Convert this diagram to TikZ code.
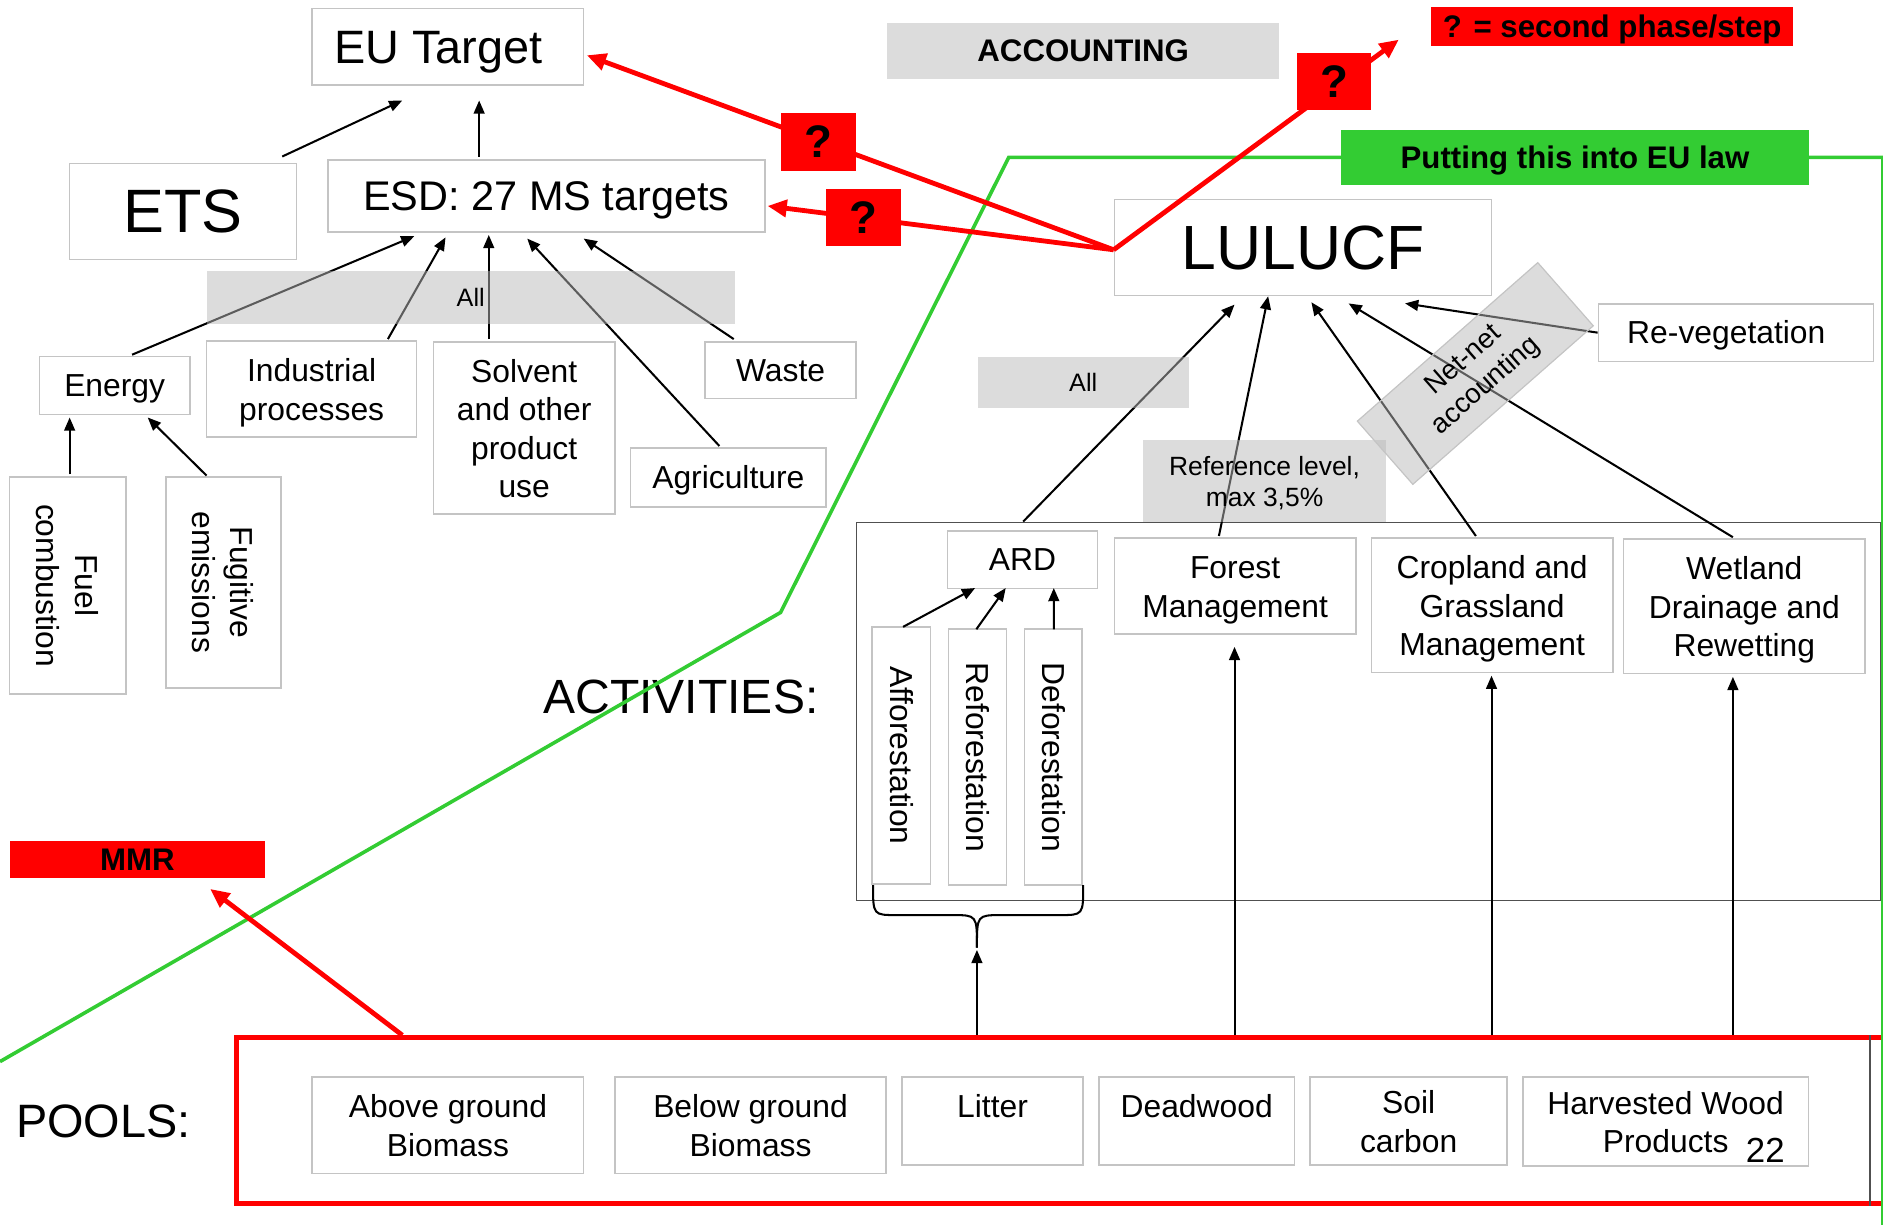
\documentclass[tikz,border=0pt]{standalone}
\usepackage{fontspec}
\setmainfont{Liberation Sans}
\usetikzlibrary{arrows.meta}
\definecolor{boxgray}{HTML}{C4C4C4}
\definecolor{fillgray}{HTML}{B9B9B9}
\definecolor{myred}{HTML}{FF0000}
\definecolor{mygreen}{HTML}{33CC33}
\definecolor{darkline}{HTML}{505050}
\newcommand\myfs[2]{\fontsize{#1}{#2}\selectfont}
\newcommand\mytp{\rule{0pt}{\dimexpr0.905em+1.5pt\relax}}
\begin{document}
\begin{tikzpicture}[x=1pt,y=-1pt,
  vc/.style={execute at begin node={\rule{0pt}{0.905em}},execute at end node={\rule[-0.212em]{0pt}{0pt}}},
  box/.style={draw=boxgray,line width=1.3pt,fill=white,inner sep=0pt,align=center,vc},
  gbox/.style={fill=fillgray,fill opacity=0.5,text opacity=1,inner sep=0pt,align=center,vc},
  rbox/.style={fill=myred,inner sep=0pt,align=center,font=\bfseries\myfs{26}{30},vc},
  arr/.style={line width=1.7pt,-{Triangle[length=11pt,width=9pt]}},
  rarr/.style={draw=myred,line width=4pt,-{Triangle[length=16pt,width=14pt]}},
  f26/.style={font=\myfs{26.5}{32}}]
\useasboundingbox (0,0) rectangle (1568,1020);

% frames
\node[draw=darkline,line width=1.2pt,minimum width=853,minimum height=315,inner sep=0pt] (actbox) at (1139.5,592.5) {};
\node[draw=myred,line width=4pt,minimum width=1393,minimum height=138,inner sep=0pt] (pools) at (893.5,933) {};
\draw[darkline,line width=1.5pt] ([shift={(663.5,0)}]pools.north) -- ([shift={(663.5,0)}]pools.south);

% left part
\node[box,font=\myfs{39}{44},minimum width=226,minimum height=64] (eu) at (373,39) {EU Target\hspace*{16pt}};
\node[box,font=\myfs{51}{56},minimum width=189,minimum height=80] (ets) at (152.5,176) {ETS};
\node[box,font=\myfs{34.5}{40},minimum width=364,minimum height=60] (esd) at (455,163) {ESD: 27 MS targets};
\node[box,f26,minimum width=125,minimum height=48] (energy) at (95.5,321) {Energy};
\node[box,f26,minimum width=175,minimum height=80] (indus) at (259.5,324) {\mytp Industrial\\processes};
\node[box,f26,minimum width=151,minimum height=143] (solvent) at (436.5,356.5) {\mytp Solvent\\and other\\product\\use};
\node[box,f26,minimum width=126,minimum height=47] (waste) at (650,308.5) {Waste};
\node[box,f26,minimum width=163,minimum height=49] (agri) at (606.5,397.5) {Agriculture};
\node[box,f26,rotate=-90,minimum width=181,minimum height=97] (fuel) at (56.5,487.5) {\mytp Fuel\\combustion};
\node[box,f26,rotate=-90,minimum width=176,minimum height=96] (fug) at (186,485) {\mytp Fugitive\\emissions};

% right part
\node[box,font=\myfs{52}{58},minimum width=314,minimum height=80] (lulucf) at (1085,206) {LULUCF};
\node[box,f26,minimum width=229,minimum height=48] (reveg) at (1445.5,277) {Re-vegetation\hspace*{16pt}};
\node[box,f26,minimum width=125,minimum height=48] (ard) at (851.5,466) {ARD};
\node[box,f26,minimum width=201,minimum height=80] (forest) at (1028.5,488) {\mytp Forest\\Management};
\node[box,f26,minimum width=201,minimum height=112] (crop) at (1242.5,504) {\mytp Cropland and\\Grassland\\Management};
\node[box,f26,minimum width=201,minimum height=112] (wet) at (1452.5,505) {\mytp Wetland\\Drainage and\\Rewetting};
\node[box,f26,rotate=-90,minimum width=214,minimum height=49] (aff) at (750.5,629) {Afforestation};
\node[box,f26,rotate=-90,minimum width=213,minimum height=48] (refo) at (814,630.5) {Reforestation};
\node[box,f26,rotate=-90,minimum width=213,minimum height=48] (defo) at (877,630.5) {Deforestation};

% pools
\node[box,f26,minimum width=226,minimum height=80] (agb) at (373,937) {\mytp Above ground\\Biomass};
\node[box,f26,minimum width=226,minimum height=80] (bgb) at (625,937) {\mytp Below ground\\Biomass};
\node[box,f26,minimum width=151,minimum height=73] (litter) at (826.5,933.5) {\mytp Litter\\[-6pt]\phantom{B}};
\node[box,f26,minimum width=163,minimum height=73] (dead) at (996.5,933.5) {\mytp Deadwood\\[-6pt]\phantom{B}};
\node[box,f26,minimum width=164,minimum height=73] (soil) at (1173,933.5) {\mytp Soil\\carbon};
\node[box,f26,minimum width=238,minimum height=74] (hwp) at (1387,934) {\mytp Harvested Wood\\Products};
\node[vc,font=\myfs{29}{32}] (num) at (1470,958) {22};

% labels
\node[vc,font=\myfs{39}{44}] (poolslab) at (86,934) {POOLS:};
\node[vc,font=\myfs{40}{44}] (actlab) at (567,580) {ACTIVITIES:};

% green line
\draw[mygreen,line width=3pt,line join=miter] (0,884) -- (650,510) -- (840,131) -- (1570,131);
\draw[mygreen,line width=1.5pt] (1567,131) -- (1567,1022);

% black arrows, left
\draw[arr] ([shift={(82.5,-5)}]ets.north) -- ([shift={(-38,12)}]eu.south);
\draw[arr] ([shift={(-56,-2)}]esd.north) -- ([shift={(26,12)}]eu.south);
\draw[arr] ([shift={(14.5,-1)}]energy.north) -- ([shift={(-110,3)}]esd.south);
\draw[arr] ([shift={(63.5,-1)}]indus.north) -- ([shift={(-84,4)}]esd.south);
\draw[arr] ([shift={(-29.5,-2)}]solvent.north) -- ([shift={(-48,2)}]esd.south);
\draw[arr] ([shift={(-7.5,-1)}]agri.north) -- ([shift={(-16,5)}]esd.south);
\draw[arr] ([shift={(-39,-2)}]waste.north) -- ([shift={(31,5)}]esd.south);
\draw[arr] ([shift={(1.5,-92.5)}]fuel.center) -- ([shift={(-37.5,2)}]energy.south);
\draw[arr] ([shift={(-14,-89)}]fug.center) -- ([shift={(27.5,2)}]energy.south);

% black arrows, right
\draw[arr] ([shift={(1.5,-107)}]aff.center) -- ([shift={(-39.5,-1)}]ard.south);
\draw[arr] ([shift={(-1,-106.5)}]refo.center) -- ([shift={(-14,-1)}]ard.south);
\draw[arr] ([shift={(0.6,-106.5)}]defo.center) -- ([shift={(26,-1)}]ard.south);
\draw[arr] ([shift={(0.5,-7)}]ard.north) -- ([shift={(-57,7)}]lulucf.south);
\draw[arr] ([shift={(-13.5,-1)}]forest.north) -- ([shift={(-29,0)}]lulucf.south);
\draw[arr] ([shift={(-13.5,-1)}]crop.north) -- ([shift={(7,5)}]lulucf.south);
\draw[arr] ([shift={(-9.5,-1)}]wet.north) -- ([shift={(38,6)}]lulucf.south);
\draw[arr] (reveg.west) -- ([shift={(85,6)}]lulucf.south);

% brace and arrows from pools
\coordinate (bt) at (813.5,789);
\draw[line width=1.7pt] (727,737) .. controls (727,762) .. (747,762) -- (793,762) .. controls (813.5,762) .. (bt);
\draw[line width=1.7pt] (902,737) .. controls (902,762) .. (882,762) -- (834,762) .. controls (813.5,762) .. (bt);
\draw[arr] ([shift={(-80,0)}]pools.north) -- ([shift={(0,2)}]bt);
\draw[arr] ([shift={(134.5,0)}]pools.north) -- ([shift={(-0.5,10)}]forest.south);
\draw[arr] ([shift={(348.5,0)}]pools.north) -- ([shift={(-0.5,2)}]crop.south);
\draw[arr] ([shift={(549.5,0)}]pools.north) -- ([shift={(-9.5,2)}]wet.south);

% gray boxes
\node[gbox,font=\myfs{21}{24},minimum width=440,minimum height=44] (allL) at (392,248) {All};
\node[gbox,font=\myfs{21}{24},minimum width=176,minimum height=43] (allR) at (902,318.5) {All};
\node[gbox,font=\myfs{22}{26},minimum width=202,minimum height=69] (refl) at (1053,400.5) {\mytp Reference level,\\max 3,5\%};
\node[gbox,draw=boxgray,line width=1pt,font=\myfs{23}{28},rotate=41.3,minimum width=200,minimum height=70] (netnet) at (1228.5,311) {Net-net\\accounting};
\node[gbox,font=\bfseries\myfs{26}{30},minimum width=326,minimum height=47] (acct) at (902,42.5) {ACCOUNTING};

% red parts
\node[rbox,minimum width=301,minimum height=32] (second) at (1342.5,22) {? = second phase/step};
\node[rbox,minimum width=213,minimum height=31] (mmr) at (114.5,715.5) {MMR};
\coordinate (J) at ([shift={(0,2)}]lulucf.west);
\draw[rarr] (J) -- ([shift={(2,7)}]eu.east);
\draw[rarr] (J) -- ([shift={(1.5,8.5)}]esd.east);
\draw[rarr] (J) -- ([shift={(-27,11)}]second.west);
\draw[rarr] ([shift={(-558.5,0)}]pools.north) -- ([shift={(60.5,9)}]mmr.south);
\node[rbox,font=\bfseries\myfs{38}{40},minimum width=63,minimum height=48] (q1) at (681.5,118) {?};
\node[rbox,font=\bfseries\myfs{38}{40},minimum width=62,minimum height=48] (q2) at (719,181) {?};
\node[rbox,font=\bfseries\myfs{38}{40},minimum width=62,minimum height=48] (q3) at (1111,68) {?};
\node[fill=mygreen,inner sep=0pt,vc,font=\bfseries\myfs{26}{30},minimum width=389,minimum height=46] (law) at (1311.5,131) {Putting this into EU law};
\end{tikzpicture}
\end{document}
